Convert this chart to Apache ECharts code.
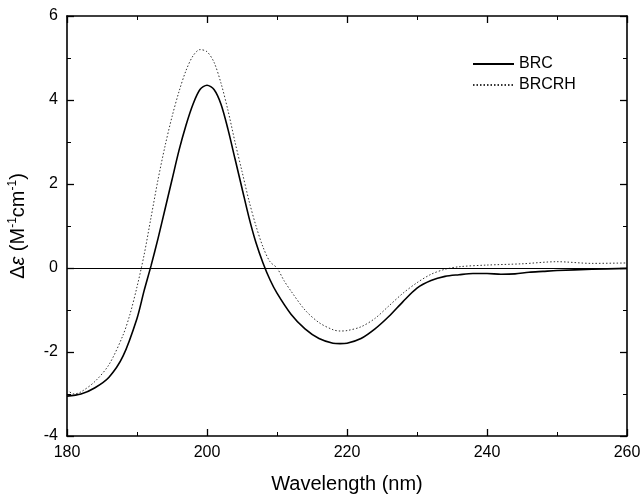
<!DOCTYPE html>
<html>
<head>
<meta charset="utf-8">
<script src="https://cdn.jsdelivr.net/npm/echarts@6/dist/echarts.min.js"></script>
<style>html,body{margin:0;padding:0;background:#fff}#c{width:644px;height:497px}</style>
</head>
<body>
<div id="c"></div>
<script>
var xTicks = [180, 200, 220, 240, 260];
var yTicks = [-4, -2, 0, 2, 4, 6];
var brcX = [180,182,184,186,188,190,191,192,193,194,195,196,197,198,199,200,201,202,203,204,205,206,207,208,209,210,212,214,216,218,219,220,222,224,226,228,230,232,234,236,238,240,242,244,246,248,250,255,260];
var brcY = [-3.05,-3.0,-2.85,-2.6,-2.1,-1.2,-0.55,0.05,0.7,1.4,2.1,2.8,3.4,3.9,4.25,4.35,4.25,3.9,3.3,2.6,1.9,1.2,0.6,0.12,-0.28,-0.6,-1.1,-1.45,-1.68,-1.79,-1.8,-1.79,-1.68,-1.45,-1.15,-0.8,-0.48,-0.3,-0.2,-0.16,-0.13,-0.13,-0.15,-0.14,-0.1,-0.08,-0.06,-0.03,-0.01];
var rhX = [180,181,182,184,186,188,189,190,191,192,193,194,195,196,197,198,199,200,201,202,203,204,205,206,207,208,209,210,211,212,214,216,218,219,220,222,224,226,228,230,232,234,236,240,245,250,255,260];
var rhY = [-2.9,-3.0,-2.95,-2.7,-2.3,-1.6,-1.1,-0.45,0.3,1.2,2.1,2.9,3.6,4.2,4.7,5.05,5.2,5.15,4.9,4.4,3.75,3.0,2.3,1.6,1.0,0.5,0.15,0.0,-0.3,-0.55,-1.0,-1.3,-1.47,-1.5,-1.49,-1.4,-1.2,-0.9,-0.6,-0.35,-0.15,-0.03,0.03,0.07,0.1,0.15,0.11,0.12];

function pairs(xs, ys){ return xs.map(function(x,i){return [x, ys[i]];}); }

var font = 'Liberation Sans, Arial, sans-serif';
var chart = echarts.init(document.getElementById('c'), null, {renderer:'canvas'});
var axisCommon = {
  axisLine:{show:true, onZero:false, lineStyle:{color:'#000', width:1.6}},
  axisTick:{show:true, inside:true, length:7, lineStyle:{color:'#000', width:1.3}},
  minorTick:{show:true, splitNumber:2, length:4, lineStyle:{color:'#000', width:1}},
  splitLine:{show:false}
};
chart.setOption({
  animation:false,
  backgroundColor:'#fff',
  grid:{left:67, right:17, top:16, bottom:61, containLabel:false, outerBoundsMode:'none'},
  legend:{
    orient:'vertical', left:467, top:51, itemWidth:41, itemHeight:10, itemGap:5,
    itemStyle:{opacity:0},
    textStyle:{fontFamily:font, fontSize:16, color:'#000'},
    data:['BRC','BRCRH']
  },
  xAxis:[
    Object.assign({type:'value', min:180, max:260, interval:20, position:'bottom',
      name:'Wavelength (nm)', nameLocation:'middle', nameGap:38,
      nameTextStyle:{fontFamily:font, fontSize:20, color:'#000'},
      axisLabel:{fontFamily:font, fontSize:16, color:'#000', margin:9,
        formatter:function(v){return xTicks.indexOf(v)>=0 ? String(v) : '';}}
    }, axisCommon),
    Object.assign({type:'value', min:180, max:260, interval:20, position:'top', axisLabel:{show:false}}, axisCommon)
  ],
  yAxis:[
    Object.assign({type:'value', min:-4, max:6, interval:2, position:'left',
      name:'{a|Δ}{b|ε}{a| (M}{s|-1}{a|cm}{s|-1}{a|)}', nameLocation:'middle', nameGap:38, nameRotate:90,
      nameTextStyle:{fontFamily:font, fontSize:20, color:'#000',
        rich:{a:{fontFamily:font, fontSize:20, color:'#000'}, b:{fontFamily:font, fontSize:20, fontStyle:'italic', color:'#000'}, s:{fontFamily:font, fontSize:12, color:'#000', verticalAlign:'top', padding:[0,0,10,0]}}},
      axisLabel:{fontFamily:font, fontSize:16, color:'#000', margin:9,
        formatter:function(v){return yTicks.indexOf(v)>=0 ? String(v) : '';}}
    }, axisCommon),
    Object.assign({type:'value', min:-4, max:6, interval:2, position:'right', axisLabel:{show:false}}, axisCommon)
  ],
  series:[
    {name:'BRC', type:'line', data:pairs(brcX, brcY), smooth:0.3, showSymbol:false, symbol:'none',
      lineStyle:{color:'#000', width:1.6, type:'solid'}, itemStyle:{color:'#000'},
      markLine:{silent:true, symbol:'none', label:{show:false}, lineStyle:{color:'#000', width:1, type:'solid'}, data:[{yAxis:0}]}},
    {name:'BRCRH', type:'line', data:pairs(rhX, rhY), smooth:0.3, showSymbol:false, symbol:'none',
      lineStyle:{color:'#333', width:1, type:[1.5,2]}, itemStyle:{color:'#333'}}
  ]
});
</script>
</body>
</html>
